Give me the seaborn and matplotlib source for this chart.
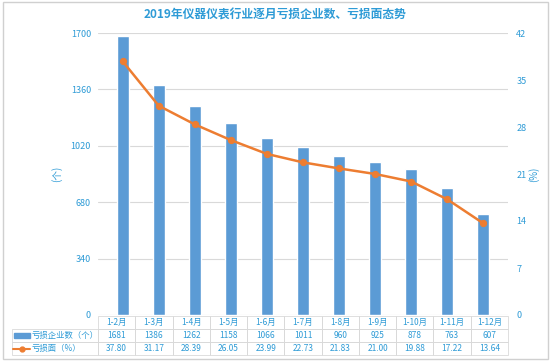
import numpy as np
import pandas as pd
import matplotlib
matplotlib.use("Agg")
import matplotlib.pyplot as plt
import seaborn as sns
from matplotlib.patches import Rectangle
from matplotlib.lines import Line2D

months = ["1-2月", "1-3月", "1-4月", "1-5月", "1-6月", "1-7月", "1-8月", "1-9月", "1-10月", "1-11月", "1-12月"]
loss_count = [1681, 1386, 1262, 1158, 1066, 1011, 960, 925, 878, 763, 607]
loss_pct = [37.80, 31.17, 28.39, 26.05, 23.99, 22.73, 21.83, 21.00, 19.88, 17.22, 13.64]
left_ticks = [0, 340, 680, 1020, 1360, 1700]
right_ticks = [0, 7, 14, 21, 28, 35, 42]

df = pd.DataFrame({"month": months, "count": loss_count, "pct": loss_pct})

sns.set_theme(style="white")
plt.rcParams['font.family'] = ['Noto Sans CJK SC', 'DejaVu Sans']

txt = "#2E9BD6"
bar_c = "#5B9BD5"
line_c = "#ED7D31"
grid_c = "#D9D9D9"

W, H = 553, 362
fig = plt.figure(figsize=(W / 100, H / 100), dpi=100)
fig.patches.append(Rectangle((3 / W, 3 / H), 545 / W, 357 / H, transform=fig.transFigure,
                             fill=False, edgecolor="#D0D0D0", lw=1))

x0, x1, ytop, ybot = 98, 508, 33, 315
ax = fig.add_axes([x0 / W, (H - ybot) / H, (x1 - x0) / W, (ybot - ytop) / H])

sns.barplot(data=df, x="month", y="count", color=bar_c, width=0.33, ax=ax, zorder=2, saturation=1)
ax.set_ylim(0, 1700)
ax.set_yticks(left_ticks)
ax.yaxis.grid(True, color=grid_c, lw=0.8)
ax.set_axisbelow(True)
ax.set_xlabel("")
ax.set_ylabel("(个)", color=txt, fontsize=7, labelpad=6)
ax.set_xticks([])
ax.tick_params(axis="y", colors=txt, labelsize=6.5, length=0, pad=5)
for s in ax.spines.values():
    s.set_visible(False)

ax2 = ax.twinx()
sns.lineplot(x=np.arange(len(months)), y=loss_pct, color=line_c, lw=1.8, marker="o",
             markersize=4.5, markeredgecolor=line_c, ax=ax2, zorder=3)
ax2.set_ylim(0, 42)
ax2.set_yticks(right_ticks)
ax2.set_ylabel("(%)", color=txt, fontsize=7, labelpad=1)
ax2.tick_params(axis="y", colors=txt, labelsize=6.5, length=0, pad=6)
ax2.set_xlim(ax.get_xlim())
for s in ax2.spines.values():
    s.set_visible(False)

fig.text(275 / W, 1 - 15 / H, "2019年仪器仪表行业逐月亏损企业数、亏损面态势", ha="center", va="center",
         color=txt, fontsize=8.5, fontweight="bold")

# data table below the plot
n = len(months)
tx0, tx1 = x0, x1
lab0 = 12
row_y = [316, 329, 342, 355]
cw = (tx1 - tx0) / n
border = "#D9D9D9"


def fx(px):
    return px / W


def fy(py):
    return 1 - py / H


for r in range(3):
    for i in range(n + 1):
        if r == 0 and i == 0:
            continue
        if i == 0:
            left, width = lab0, tx0 - lab0
        else:
            left, width = tx0 + (i - 1) * cw, cw
        fig.patches.append(Rectangle((fx(left), fy(row_y[r + 1])), width / W,
                                     (row_y[r + 1] - row_y[r]) / H, transform=fig.transFigure,
                                     fill=False, edgecolor=border, lw=0.6))

for i, m in enumerate(months):
    cx = fx(tx0 + (i + 0.5) * cw)
    fig.text(cx, fy((row_y[0] + row_y[1]) / 2), m, ha="center", va="center", color=txt, fontsize=6)
    fig.text(cx, fy((row_y[1] + row_y[2]) / 2), str(loss_count[i]), ha="center", va="center",
             color=txt, fontsize=6)
    fig.text(cx, fy((row_y[2] + row_y[3]) / 2), f"{loss_pct[i]:.2f}", ha="center", va="center",
             color=txt, fontsize=6)

yc1 = fy((row_y[1] + row_y[2]) / 2)
yc2 = fy((row_y[2] + row_y[3]) / 2)
fig.patches.append(Rectangle((fx(14), yc1 - 2.5 / H), 16 / W, 5 / H, transform=fig.transFigure,
                             color=bar_c))
fig.text(fx(32), yc1, "亏损企业数（个）", ha="left", va="center", color=txt, fontsize=6)
fig.lines.append(Line2D([fx(13), fx(30)], [yc2, yc2], transform=fig.transFigure, color=line_c, lw=1.5))
fig.lines.append(Line2D([fx(21.5)], [yc2], transform=fig.transFigure, color=line_c, marker="o",
                        markersize=3.5))
fig.text(fx(32), yc2, "亏损面（%）", ha="left", va="center", color=txt, fontsize=6)

fig.savefig("out.png", dpi=100)
